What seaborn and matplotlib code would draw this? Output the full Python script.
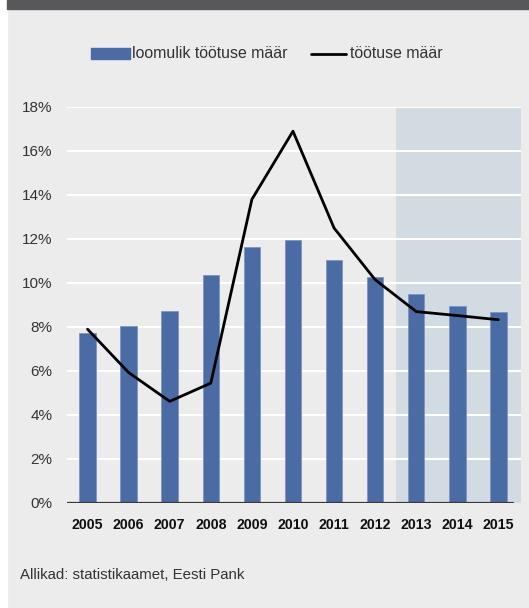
import matplotlib
matplotlib.use("Agg")
import matplotlib.pyplot as plt
from matplotlib.patches import Rectangle
from matplotlib.lines import Line2D
import seaborn as sns
import numpy as np
import pandas as pd

years = ["2005", "2006", "2007", "2008", "2009", "2010", "2011", "2012", "2013", "2014", "2015"]
natural_rate = [7.74, 8.04, 8.71, 10.35, 11.65, 11.95, 11.03, 10.27, 9.5, 8.95, 8.67]
unemployment = [7.9, 5.93, 4.62, 5.45, 13.8, 16.9, 12.5, 10.15, 8.7, 8.52, 8.33]
forecast_years = ["2013", "2014", "2015"]
yticks = [0, 2, 4, 6, 8, 10, 12, 14, 16, 18]
bar_label = "loomulik töötuse määr"
line_label = "töötuse määr"
source = "Allikad: statistikaamet, Eesti Pank"

BG = "#ebeceb"
BAR = "#4a6ba4"
SHADE = "#d3dbe2"
FONT = "Liberation Sans"

sns.set_theme(style="white")
plt.rcParams["font.family"] = [FONT, "DejaVu Sans"]

W, H = 529, 608
fig = plt.figure(figsize=(W / 100, H / 100), dpi=100, facecolor=BG)

# left white margin and top dark band
fig.patches.append(Rectangle((0, 0), 7 / W, 1, transform=fig.transFigure, color="white", zorder=0))
fig.patches.append(Rectangle((7 / W, 1 - 8.5 / H), 1, 8.5 / H, transform=fig.transFigure,
                             color="#58585a", zorder=1))

ax = fig.add_axes([67 / W, 105 / H, (521 - 67) / W, 396 / H])
ax.set_facecolor(BG)

df = pd.DataFrame({"year": years, "natural": natural_rate, "rate": unemployment})

# forecast shading
i0 = years.index(forecast_years[0])
i1 = years.index(forecast_years[-1])
ax.axvspan(i0 - 0.5, i1 + 0.55, color=SHADE, zorder=0, lw=0)

for t in yticks[1:]:
    ax.axhline(t, color="white", lw=1.5, zorder=0.5)

sns.barplot(data=df, x="year", y="natural", color=BAR, width=0.4, ax=ax,
            edgecolor="#7d96c0", linewidth=0.6, saturation=1, zorder=2)
sns.lineplot(x=np.arange(len(years)), y=df["rate"], color="black", lw=2.0, ax=ax, zorder=3)

ax.axhline(0, xmin=0, xmax=(513 - 67) / (521 - 67), color="#3a3a3a", lw=1.6, zorder=4)

ax.set_xlim(-0.5, len(years) - 1 + 0.55)
ax.set_ylim(0, 18)
ax.set_yticks(yticks)
ax.set_yticklabels([f"{t}%" for t in yticks], fontsize=11, color="#333333")
ax.set_xticks(range(len(years)))
ax.set_xticklabels(years, fontsize=10.2, fontweight="bold", color="#111111")
ax.tick_params(axis="y", length=0, pad=10.5)
ax.tick_params(axis="x", length=0, pad=10.5)
ax.set_xlabel("")
ax.set_ylabel("")
for s in ax.spines.values():
    s.set_visible(False)

# legend (manual, matching reference)
ly = 1 - 53.5 / H
fig.patches.append(Rectangle((91 / W, ly - 5 / H), 39 / W, 10 / H, transform=fig.transFigure,
                             color=BAR, zorder=3))
fig.text(132 / W, ly, bar_label, fontsize=11.4, color="#333333", va="center", ha="left")
fig.lines.append(Line2D([311 / W, 346 / W], [ly, ly], transform=fig.transFigure, color="black", lw=2.0))
fig.text(350 / W, ly, line_label, fontsize=11.4, color="#333333", va="center", ha="left")

fig.text(20 / W, 1 - 575 / H, source, fontsize=10.8, color="#333333", va="center", ha="left")

fig.savefig("out.png", dpi=100, facecolor=BG)
